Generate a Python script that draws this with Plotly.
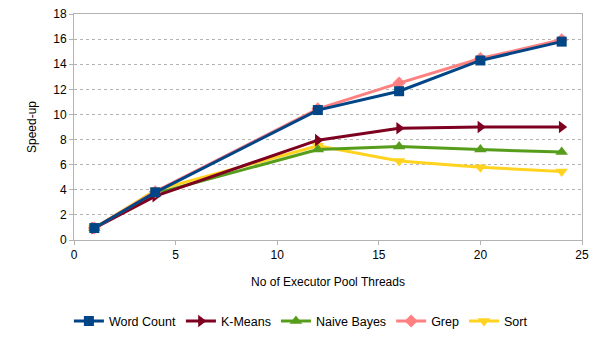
import plotly.graph_objects as go

threads = [1, 4, 12, 16, 20, 24]
word_count = [0.95, 3.8, 10.35, 11.85, 14.3, 15.8]
k_means = [0.95, 3.5, 7.95, 8.9, 9.0, 9.0]
naive_bayes = [0.95, 3.7, 7.2, 7.45, 7.2, 7.0]
grep = [0.95, 3.85, 10.45, 12.5, 14.45, 15.95]
sort = [0.95, 3.95, 7.5, 6.3, 5.8, 5.45]

series = [
    ("Word Count", word_count, "#004586", "square", 10),
    ("K-Means", k_means, "#7e0021", "triangle-right", 11),
    ("Naive Bayes", naive_bayes, "#579d1c", "triangle-up", 11),
    ("Grep", grep, "#ff8080", "diamond", 10),
    ("Sort", sort, "#ffd320", "triangle-down", 11),
]
# draw order: background lines first so Word Count sits on top
draw_order = ["Sort", "Naive Bayes", "K-Means", "Grep", "Word Count"]
names = [s[0] for s in series]

fig = go.Figure()
by_name = {s[0]: s for s in series}
for name in draw_order:
    _, ys, color, sym, size = by_name[name]
    fig.add_trace(go.Scatter(
        x=threads, y=ys, name=name,
        mode="lines+markers",
        line=dict(color=color, width=3),
        marker=dict(symbol=sym, size=size, color=color),
        legendrank=names.index(name),
    ))

axis_font = dict(family="Liberation Sans, Arial, sans-serif", size=12, color="#000")
# page body has an 8px default margin, so margins are offset accordingly
fig.update_layout(
    width=601, height=338,
    margin=dict(l=66, r=27, t=6, b=106, autoexpand=False),
    plot_bgcolor="white", paper_bgcolor="white",
    font=axis_font,
    showlegend=True,
    legend=dict(orientation="h", x=-0.01, xanchor="left", y=-0.36, yanchor="middle",
                font=dict(size=12.5), itemwidth=30, tracegroupgap=0),
)
fig.update_xaxes(
    range=[0, 25], tick0=0, dtick=5,
    showgrid=False, zeroline=False, automargin=False,
    showline=True, linecolor="#b3b3b3", mirror=True,
    ticks="outside", ticklen=4, tickcolor="#b3b3b3",
    ticklabeloverflow="allow",
    title=dict(text="No of Executor Pool Threads", font=dict(size=12), standoff=16),
)
fig.update_yaxes(
    range=[0, 18], tick0=0, dtick=2,
    showgrid=True, gridcolor="#b3b3b3", griddash="dot",
    zeroline=False, automargin=False,
    showline=True, linecolor="#b3b3b3", mirror=True,
    ticks="outside", ticklen=4, tickcolor="#b3b3b3",
    ticklabeloverflow="allow",
    title=dict(text="Speed-up", font=dict(size=12), standoff=14),
)

fig.write_html("out.html")
